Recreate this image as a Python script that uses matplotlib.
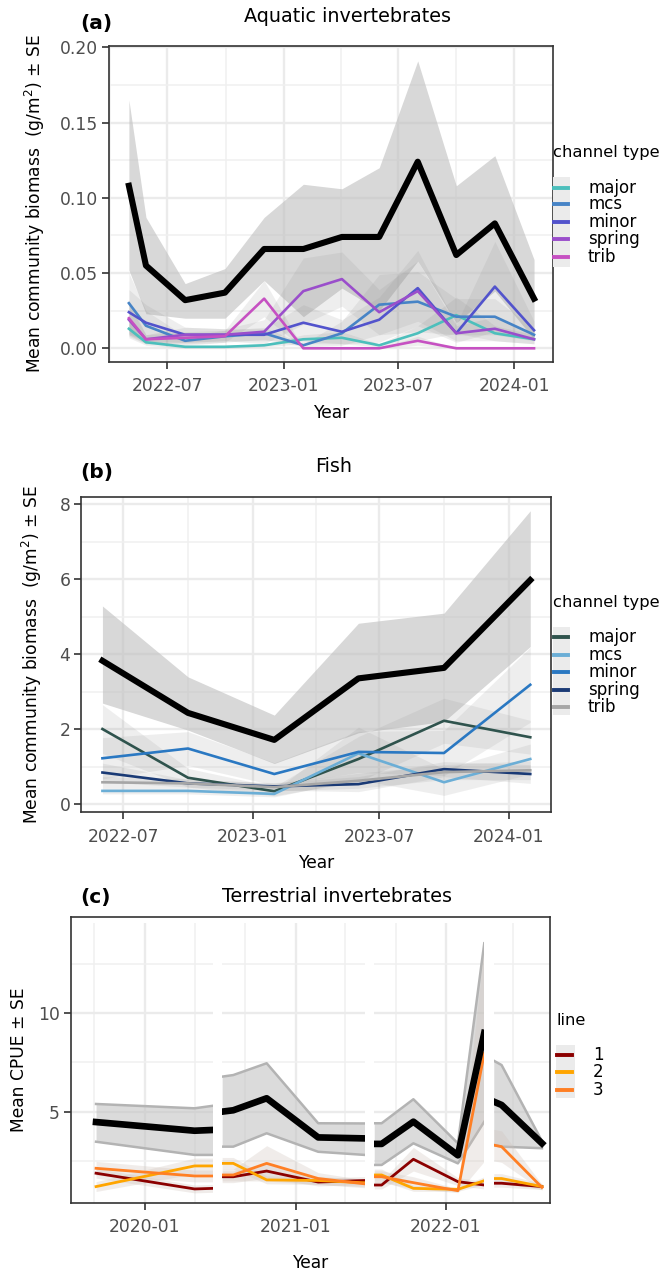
import matplotlib
matplotlib.use("Agg")
import matplotlib.pyplot as plt
import matplotlib.dates as mdates
from matplotlib.lines import Line2D
from matplotlib.patches import Rectangle
from datetime import datetime
import numpy as np

plt.rcParams['font.family'] = ['DejaVu Sans']

W, H = 662, 1272

# ---------------- (a) Aquatic invertebrates ----------------
aq_dates = ["2022-05-01", "2022-05-28", "2022-07-29", "2022-09-30", "2022-12-01", "2023-02-01",
            "2023-04-03", "2023-06-01", "2023-08-01", "2023-10-01", "2023-12-01", "2024-02-01"]
aq_total = [0.108, 0.055, 0.032, 0.037, 0.066, 0.066, 0.074, 0.074, 0.124, 0.062, 0.083, 0.033]
aq_total_hi = [0.165, 0.087, 0.043, 0.053, 0.087, 0.109, 0.106, 0.120, 0.191, 0.108, 0.128, 0.059]
aq_total_lo = [0.052, 0.023, 0.020, 0.020, 0.045, 0.021, 0.040, 0.025, 0.058, 0.017, 0.038, 0.006]
aq_types = ["major", "mcs", "minor", "spring", "trib"]
aq_major = [0.013, 0.004, 0.001, 0.001, 0.002, 0.006, 0.007, 0.002, 0.010, 0.022, 0.010, 0.006]
aq_mcs = [0.030, 0.015, 0.005, 0.008, 0.010, 0.002, 0.010, 0.029, 0.031, 0.021, 0.021, 0.009]
aq_minor = [0.024, 0.017, 0.009, 0.009, 0.009, 0.017, 0.011, 0.019, 0.040, 0.010, 0.041, 0.012]
aq_spring = [0.019, 0.006, 0.009, 0.009, 0.011, 0.038, 0.046, 0.024, 0.038, 0.010, 0.013, 0.006]
aq_trib = [0.020, 0.006, 0.007, 0.008, 0.033, 0.000, 0.000, 0.000, 0.005, 0.000, 0.000, 0.000]
aq_major_se = [0.006, 0.002, 0.001, 0.001, 0.001, 0.003, 0.004, 0.001, 0.005, 0.012, 0.005, 0.003]
aq_mcs_se = [0.020, 0.010, 0.003, 0.004, 0.004, 0.001, 0.008, 0.020, 0.020, 0.012, 0.012, 0.004]
aq_minor_se = [0.015, 0.012, 0.005, 0.004, 0.004, 0.012, 0.008, 0.015, 0.025, 0.006, 0.030, 0.006]
aq_spring_se = [0.010, 0.003, 0.005, 0.004, 0.008, 0.022, 0.018, 0.015, 0.020, 0.005, 0.008, 0.003]
aq_trib_se = [0.012, 0.003, 0.004, 0.004, 0.012, 0.000, 0.000, 0.000, 0.003, 0.000, 0.000, 0.000]
aq_colors = ["#4CBFBC", "#4784C6", "#5253CC", "#9A4ECB", "#C651C2"]

# ---------------- (b) Fish ----------------
fish_dates = ["2022-06-01", "2022-10-01", "2023-02-01", "2023-06-01", "2023-10-01", "2024-02-01"]
fish_total = [3.82, 2.43, 1.71, 3.35, 3.63, 5.97]
fish_total_hi = [5.28, 3.39, 2.37, 4.82, 5.09, 7.82]
fish_total_lo = [2.69, 1.97, 1.08, 1.90, 2.20, 4.20]
fish_types = ["major", "mcs", "minor", "spring", "trib"]
fish_major = [2.00, 0.70, 0.34, 1.20, 2.22, 1.78]
fish_mcs = [0.35, 0.35, 0.27, 1.35, 0.58, 1.20]
fish_minor = [1.22, 1.48, 0.80, 1.39, 1.36, 3.18]
fish_spring = [0.84, 0.55, 0.47, 0.53, 0.93, 0.80]
fish_trib = [0.58, 0.55, 0.45, 0.62, 0.85, 0.90]
fish_major_se = [0.65, 0.25, 0.12, 0.60, 0.60, 0.45]
fish_mcs_se = [0.08, 0.08, 0.08, 0.70, 0.35, 0.40]
fish_minor_se = [0.55, 0.45, 0.30, 0.55, 0.60, 1.00]
fish_spring_se = [0.25, 0.10, 0.10, 0.20, 0.20, 0.25]
fish_trib_se = [0.15, 0.12, 0.10, 0.20, 0.20, 0.25]
fish_colors = ["#2F534D", "#6BAED6", "#2A78C2", "#1A3A75", "#A6A6A6"]

# ---------------- (c) Terrestrial invertebrates (four pieces) ----------------
terr_dates = [["2019-09-05", "2020-05-01", "2020-06-15"],
              ["2020-07-07", "2020-08-03", "2020-10-23", "2021-02-25", "2021-06-18"],
              ["2021-07-11", "2021-07-29", "2021-10-14", "2022-01-30", "2022-04-04"],
              ["2022-04-27", "2022-05-16", "2022-08-22"]]
terr_total = [[4.47, 4.03, 4.07], [5.00, 5.07, 5.68, 3.69, 3.64],
              [3.36, 3.36, 4.49, 2.78, 9.00], [5.51, 5.34, 3.39]]
terr_total_hi = [[5.39, 5.17, 5.30], [6.78, 6.86, 7.46, 4.41, 4.40],
                 [4.41, 4.41, 5.63, 3.39, 13.56], [7.59, 7.37, 3.50]]
terr_total_lo = [[3.47, 2.80, 2.80], [3.22, 3.22, 3.90, 2.96, 2.80],
                 [2.29, 2.29, 3.39, 2.37, 4.49], [3.30, 3.22, 3.14]]
terr_lines = ["1", "2", "3"]
terr_line1 = [[1.87, 1.07, 1.10], [1.69, 1.69, 1.98, 1.42, 1.50],
              [1.27, 1.27, 2.58, 1.44, 1.27], [1.36, 1.36, 1.19]]
terr_line2 = [[1.19, 2.24, 2.24], [2.37, 2.37, 1.53, 1.50, 1.38],
              [1.78, 1.78, 1.10, 1.05, 1.49], [1.60, 1.60, 1.19]]
terr_line3 = [[2.12, 1.73, 1.73], [1.78, 1.78, 2.37, 1.60, 1.33],
              [1.69, 1.69, 1.39, 0.98, 7.97], [3.30, 3.22, 1.15]]
terr_line1_se = [[0.25, 0.20, 0.20], [0.30, 0.30, 0.35, 0.20, 0.20],
                 [0.20, 0.20, 0.60, 0.20, 0.20], [0.20, 0.20, 0.15]]
terr_line2_se = [[0.25, 0.40, 0.40], [0.30, 0.30, 0.20, 0.20, 0.20],
                 [0.30, 0.30, 0.15, 0.10, 0.20], [0.25, 0.25, 0.15]]
terr_line3_se = [[0.35, 0.30, 0.30], [0.30, 0.30, 0.90, 0.30, 0.20],
                 [0.30, 0.30, 0.30, 0.10, 5.50], [0.80, 0.80, 0.15]]
terr_colors = ["#8B0000", "#FFA500", "#FF7F24"]


def d(s):
    return datetime.strptime(s, "%Y-%m-%d")


def fx(x):
    return x / W


def fy(y):
    return 1 - y / H


def axes_px(left, top, right, bottom):
    return fig.add_axes([fx(left), fy(bottom), (right - left) / W, (bottom - top) / H])


def style(ax, xlim, ylim, yticks, ylabels, yminor, xmaj, xmin):
    ax.set_xlim(d(xlim[0]), d(xlim[1]))
    ax.set_ylim(*ylim)
    ax.set_yticks(yticks)
    ax.set_yticklabels(ylabels)
    ax.set_yticks(yminor, minor=True)
    ax.set_xticks([d(s) for s in xmaj])
    ax.set_xticks([d(s) for s in xmin], minor=True)
    ax.xaxis.set_major_formatter(mdates.DateFormatter('%Y-%m'))
    ax.grid(which='major', color='#EBEBEB', lw=1.7)
    ax.grid(which='minor', color='#F0F0F0', lw=1.1)
    ax.set_axisbelow(True)
    ax.tick_params(which='major', length=5, width=1.2, color='#333333',
                   labelsize=12.3, labelcolor='#4D4D4D')
    ax.tick_params(axis='x', which='major', pad=6)
    ax.tick_params(axis='y', which='major', pad=3)
    ax.tick_params(which='minor', length=0)
    for sp in ax.spines.values():
        sp.set_color('#333333')
        sp.set_linewidth(1.2)
        sp.set_zorder(10)


def draw_panel(ax, dates, total, lo, hi, series, ses, colors):
    x = [d(s) for s in dates]
    ax.fill_between(x, lo, hi, color='#BEBEBE', alpha=0.6, lw=0, zorder=2)
    for v, se in zip(series, ses):
        v = np.array(v)
        se = np.array(se)
        ax.fill_between(x, v - se, v + se, color='#8C8C8C', alpha=0.14, lw=0, zorder=2)
    for v, c in zip(series, colors):
        ax.plot(x, v, color=c, lw=1.9, zorder=3)
    ax.plot(x, total, color='black', lw=4.4, zorder=4)


def legend(title, tx, ty, labels, colors, key_x, key_y, lab_x, box):
    fig.text(fx(tx), fy(ty), title, fontsize=11.8, ha='left', va='center', color='black')
    fig.add_artist(Rectangle((fx(box[0]), fy(box[3])), (box[2] - box[0]) / W, (box[3] - box[1]) / H,
                             transform=fig.transFigure, facecolor='#EBEBEB', edgecolor='none'))
    for lab, c, y in zip(labels, colors, key_y):
        fig.add_artist(Line2D([fx(key_x[0]), fx(key_x[1])], [fy(y), fy(y)],
                              transform=fig.transFigure, color=c, lw=2.8))
        fig.text(fx(lab_x), fy(y), lab, fontsize=12, ha='left', va='center', color='black')


fig = plt.figure(figsize=(W / 100, H / 100), dpi=100)

# ---- panel a
ax_a = axes_px(109.3, 46, 553, 361.7)
draw_panel(ax_a, aq_dates, aq_total, aq_total_lo, aq_total_hi,
           [aq_major, aq_mcs, aq_minor, aq_spring, aq_trib],
           [aq_major_se, aq_mcs_se, aq_minor_se, aq_spring_se, aq_trib_se], aq_colors)
style(ax_a, ("2022-03-31", "2024-03-02"), (-0.0089, 0.2009),
      [0, 0.05, 0.10, 0.15, 0.20], ["0.00", "0.05", "0.10", "0.15", "0.20"],
      [0.025, 0.075, 0.125, 0.175],
      ["2022-07-01", "2023-01-01", "2023-07-01", "2024-01-01"],
      ["2022-04-01", "2022-10-01", "2023-04-01", "2023-10-01"])
fig.text(fx(80), fy(23), "(a)", fontsize=14.5, fontweight='bold', ha='left', va='center')
fig.text(fx(347), fy(17), "Aquatic invertebrates", fontsize=13.8, ha='center', va='center')
fig.text(fx(331), fy(412.7), "Year", fontsize=12.3, ha='center', va='center')
fig.text(fx(35), fy(204), "Mean community biomass  (g/m$^{2}$) ± SE", fontsize=12.3,
         rotation=90, ha='center', va='center')
legend("channel type", 552.7, 152.7, aq_types, aq_colors, (554, 567.5),
       [187.7, 204.3, 221.7, 239.3, 256.7], 588, (552.7, 176.7, 569.6, 266.7))

# ---- panel b
ax_b = axes_px(81.4, 496.7, 550.6, 812.3)
draw_panel(ax_b, fish_dates, fish_total, fish_total_lo, fish_total_hi,
           [fish_major, fish_mcs, fish_minor, fish_spring, fish_trib],
           [fish_major_se, fish_mcs_se, fish_minor_se, fish_spring_se, fish_trib_se], fish_colors)
style(ax_b, ("2022-05-02", "2024-03-01"), (-0.221, 8.195),
      [0, 2, 4, 6, 8], ["0", "2", "4", "6", "8"], [1, 3, 5, 7],
      ["2022-07-01", "2023-01-01", "2023-07-01", "2024-01-01"],
      ["2022-10-01", "2023-04-01", "2023-10-01"])
fig.text(fx(80), fy(472.5), "(b)", fontsize=14.5, fontweight='bold', ha='left', va='center')
fig.text(fx(333.3), fy(466.7), "Fish", fontsize=13.8, ha='center', va='center')
fig.text(fx(316), fy(862.7), "Year", fontsize=12.3, ha='center', va='center')
fig.text(fx(32), fy(654.5), "Mean community biomass  (g/m$^{2}$) ± SE", fontsize=12.3,
         rotation=90, ha='center', va='center')
legend("channel type", 552.7, 602.7, fish_types, fish_colors, (554, 567.5),
       [637.3, 655, 672.3, 690, 707.3], 588, (552.7, 626.7, 569.6, 715))

# ---- panel c
ax_c = axes_px(70.9, 917.3, 549.8, 1202.7)
for k in range(len(terr_dates)):
    x = [d(s) for s in terr_dates[k]]
    ax_c.fill_between(x, terr_total_lo[k], terr_total_hi[k], color='#C4C4C4', alpha=0.6, lw=0, zorder=2)
    ax_c.plot(x, terr_total_lo[k], color='#B3B3B3', lw=1.8, zorder=2.2)
    ax_c.plot(x, terr_total_hi[k], color='#B3B3B3', lw=1.8, zorder=2.2)
    for v, se in zip([terr_line1[k], terr_line2[k], terr_line3[k]],
                     [terr_line1_se[k], terr_line2_se[k], terr_line3_se[k]]):
        v = np.array(v)
        se = np.array(se)
        ax_c.fill_between(x, v - se, v + se, color='#CFC3BA', alpha=0.3, lw=0, zorder=2.3)
    for v, c in zip([terr_line1[k], terr_line2[k], terr_line3[k]], terr_colors):
        ax_c.plot(x, v, color=c, lw=2.0, zorder=3)
    ax_c.plot(x, terr_total[k], color='black', lw=4.8, zorder=4)
# white seams between the four pieces of the panel
for a, b in [("2020-06-15", "2020-07-07"), ("2021-06-18", "2021-07-11"), ("2022-04-04", "2022-04-27")]:
    ax_c.axvspan(d(a), d(b), color='white', lw=0, zorder=5)
ax_c.axhspan(14.58, 15.0, color='white', lw=0, zorder=5)
style(ax_c, ("2019-07-06", "2022-09-10"), (0.371, 14.88),
      [5, 10], ["5", "10"], [2.5, 7.5, 12.5],
      ["2020-01-01", "2021-01-01", "2022-01-01"],
      ["2019-09-01", "2020-05-01", "2020-09-01", "2021-05-01", "2021-09-01", "2022-06-12"])
fig.text(fx(80), fy(897), "(c)", fontsize=14.5, fontweight='bold', ha='left', va='center')
fig.text(fx(336.7), fy(896.7), "Terrestrial invertebrates", fontsize=13.8, ha='center', va='center')
fig.text(fx(310), fy(1263), "Year", fontsize=12.3, ha='center', va='center')
fig.text(fx(19), fy(1060), "Mean CPUE ± SE", fontsize=12.3, rotation=90, ha='center', va='center')
legend("line", 557, 1020.7, terr_lines, terr_colors, (557, 572),
       [1055, 1072.3, 1090], 593, (556, 1045, 574.7, 1098))

fig.savefig("out.png", dpi=100)
